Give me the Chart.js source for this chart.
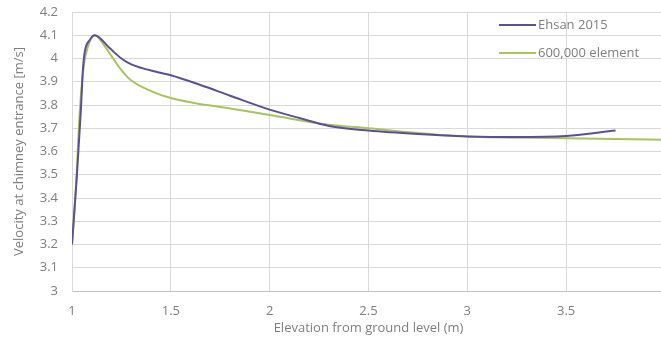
<!DOCTYPE html>
<html>
<head>
<meta charset="utf-8">
<script src="https://cdn.jsdelivr.net/npm/chart.js@4/dist/chart.umd.min.js"></script>
<style>
  html, body { margin: 0; padding: 0; background: #fff; overflow: hidden; }
  #wrap { width: 672px; height: 340px; }
</style>
</head>
<body>
<div id="wrap"><canvas id="chart" width="672" height="340"></canvas></div>
<script>
// series
const ehsanX = [1.0, 1.025, 1.045, 1.055, 1.065, 1.09, 1.115, 1.19, 1.25, 1.3, 1.44, 1.5, 1.65, 1.8, 2.0, 2.15, 2.3, 2.5, 2.75, 3.0, 3.25, 3.5, 3.75];
const ehsanY = [3.2, 3.5, 3.78, 3.95, 4.03, 4.08, 4.1, 4.045, 4.0, 3.975, 3.94, 3.928, 3.886, 3.84, 3.78, 3.744, 3.71, 3.69, 3.675, 3.665, 3.662, 3.667, 3.69];

const elemX = [1.0, 1.02, 1.04, 1.06, 1.08, 1.115, 1.16, 1.2, 1.25, 1.3, 1.4, 1.5, 1.61, 1.8, 2.0, 2.3, 2.5, 2.75, 3.0, 3.5, 4.0];
const elemY = [3.2, 3.45, 3.78, 3.97, 4.05, 4.1, 4.06, 4.01, 3.95, 3.905, 3.86, 3.83, 3.81, 3.785, 3.757, 3.715, 3.70, 3.68, 3.665, 3.657, 3.65];

const labels = ["Ehsan 2015", "600,000 element"];
const colours = ["#5b4f9c", "#a9c45c"];

const toPoints = (xs, ys) => xs.map((x, i) => ({ x, y: ys[i] }));
const fmt = v => String(Math.round(v * 10) / 10);

// legend drawn inside the plot, top right
const insideLegend = {
  id: "insideLegend",
  afterDraw(chart) {
    const ctx = chart.ctx;
    ctx.save();
    ctx.font = "13px 'Open Sans'";
    ctx.fillStyle = "#7f7f7f";
    ctx.textBaseline = "middle";
    chart.data.datasets.forEach((ds, i) => {
      const y = 25 + i * 28;
      ctx.strokeStyle = ds.borderColor;
      ctx.lineWidth = 2;
      ctx.beginPath();
      ctx.moveTo(499, y);
      ctx.lineTo(536, y);
      ctx.stroke();
      ctx.fillText(ds.label, 538, y);
    });
    ctx.restore();
  }
};

// fixed axis boxes so the plot sits where the original does
function fixY(scale) {
  scale.width = 72;
  scale.paddingTop = 0;
  scale.paddingBottom = 0;
}
function fixX(scale) {
  scale.height = 49;
  scale.paddingLeft = 0;
  scale.paddingRight = 0;
}

Chart.defaults.font.family = "'Open Sans'";
Chart.defaults.font.size = 13;
Chart.defaults.color = "#7f7f7f";

new Chart(document.getElementById("chart"), {
  type: "line",
  data: {
    datasets: [{
      label: labels[0],
      data: toPoints(ehsanX, ehsanY),
      borderColor: colours[0],
      borderWidth: 2,
      pointRadius: 0,
      cubicInterpolationMode: "monotone"
    }, {
      label: labels[1],
      data: toPoints(elemX, elemY),
      borderColor: colours[1],
      borderWidth: 2,
      pointRadius: 0,
      cubicInterpolationMode: "monotone"
    }]
  },
  options: {
    responsive: false,
    animation: false,
    layout: { padding: { left: 0, top: 12, right: 7, bottom: 0 } },
    plugins: {
      legend: { display: false },
      tooltip: { enabled: false }
    },
    scales: {
      x: {
        type: "linear",
        min: 1,
        max: 4,
        afterFit: fixX,
        ticks: { stepSize: 0.5, padding: 12, callback: fmt },
        grid: { color: "#d9d9d9", tickLength: 0 },
        border: { color: "#bfbfbf" },
        title: { display: true, text: "Elevation from ground level (m)", padding: { top: 0, bottom: 4 } }
      },
      y: {
        min: 3,
        max: 4.2,
        afterFit: fixY,
        ticks: { stepSize: 0.1, padding: 14, callback: fmt },
        grid: { color: "#d9d9d9", tickLength: 0 },
        border: { color: "#d9d9d9" },
        title: { display: true, text: "Velocity at chimney entrance [m/s]", padding: { top: 11, bottom: 0 } }
      }
    }
  },
  plugins: [insideLegend]
});
</script>
</body>
</html>
